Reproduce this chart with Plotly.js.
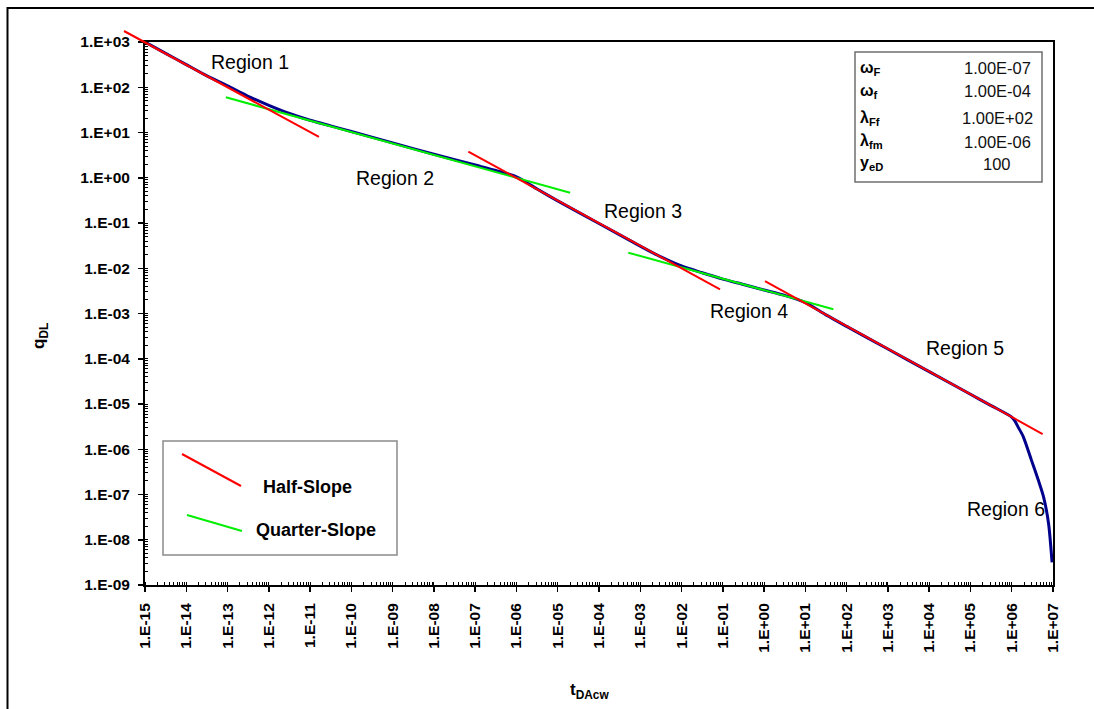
<!DOCTYPE html>
<html>
<head>
<meta charset="utf-8">
<script src="https://cdn.plot.ly/plotly-3.0.1.min.js"></script>
<style>html,body{margin:0;padding:0;background:#fff;}#chart{width:1094px;height:709px;}</style>
</head>
<body>
<div id="chart"></div>
<script>
// ---------- data ----------
const xTickVals = [1e-15,1e-14,1e-13,1e-12,1e-11,1e-10,1e-9,1e-8,1e-7,1e-6,1e-5,1e-4,1e-3,1e-2,1e-1,1e0,1e1,1e2,1e3,1e4,1e5,1e6,1e7];
const xTickText = ['1.E-15','1.E-14','1.E-13','1.E-12','1.E-11','1.E-10','1.E-09','1.E-08','1.E-07','1.E-06','1.E-05','1.E-04','1.E-03','1.E-02','1.E-01','1.E+00','1.E+01','1.E+02','1.E+03','1.E+04','1.E+05','1.E+06','1.E+07'];
const yTickVals = [1e-9,1e-8,1e-7,1e-6,1e-5,1e-4,1e-3,1e-2,1e-1,1e0,1e1,1e2,1e3];
const yTickText = ['1.E-09','1.E-08','1.E-07','1.E-06','1.E-05','1.E-04','1.E-03','1.E-02','1.E-01','1.E+00','1.E+01','1.E+02','1.E+03'];

// solution curve (tDAcw, qDL)
const tDA = [1e-15,3.16e-15,1e-14,3.16e-14,1e-13,3.16e-13,1e-12,3.16e-12,1e-11,3.16e-11,1e-10,1e-9,1e-8,1e-7,3.16e-7,1e-6,3.16e-6,1e-5,1e-4,1e-3,3.16e-3,1e-2,3.16e-2,0.1,0.316,1,3.16,10,31.6,100,1e3,1e4,1e5,3.16e5,1e6,1.2e6,1.41e6,1.9e6,3.0e6,4.4e6,5.9e6,7.8e6,9.5e6];
const qDL = [1000,562,316,178,107,63.1,39.8,26.3,18.6,14.0,10.5,5.89,3.31,1.91,1.45,1.05,0.562,0.309,0.0977,0.0309,0.0178,0.0112,0.00794,0.00575,0.00437,0.00331,0.00251,0.00174,0.000933,0.000519,0.000164,5.19e-5,1.64e-5,9.23e-6,5.13e-6,4.17e-6,3.16e-6,1.91e-6,5.75e-7,2.09e-7,8.91e-8,2.29e-8,3.16e-9];

// half-slope guide lines
const half1T = [3.1e-16, 1.64e-11], half1Q = [1750, 7.96];
const half2T = [6.82e-8, 0.0857],   half2Q = [3.77, 0.00342];
const half3T = [1.05, 5.62e6],      half3Q = [0.00522, 2.17e-6];
// quarter-slope guide lines
const quarter1T = [9.1e-14, 2.0e-5], quarter1Q = [60.0, 0.468];
const quarter2T = [5.14e-4, 47.6],   quarter2Q = [0.0221, 0.00124];

const paramLabels = ['ω<sub>F</sub>','ω<sub>f</sub>','λ<sub>Ff</sub>','λ<sub>fm</sub>','y<sub>eD</sub>'];
const paramValues = ['1.00E-07','1.00E-04','1.00E+02','1.00E-06','100'];
const regionLabels = ['Region 1','Region 2','Region 3','Region 4','Region 5','Region 6'];
const legendLabels = ['Half-Slope','Quarter-Slope'];

// ---------- layout geometry (pixels) ----------
const W = 1094, H = 709, L = 115, R = 41, T = 25, B = 124;
const gw = W - L - R, gh = H - T - B;
const fx0 = 145, fx1 = 1053, fy0 = 42, fy1 = 585;
const px = x => (x - L) / gw;
const py = y => (H - B - y) / gh;
const xRange = [-15, 7], yRange = [-9, 3];
const ppdX = (fx1 - fx0) / (xRange[1] - xRange[0]);
const ppdY = (fy1 - fy0) / (yRange[1] - yRange[0]);
const x2Range = [xRange[0] - (fx0 - L) / ppdX, xRange[1] + (W - R - fx1) / ppdX];
const y2Range = [yRange[0] - (H - B - fy1) / ppdY, yRange[1] + (fy0 - T) / ppdY];

const FONT = 'Liberation Sans, Arial, Helvetica, sans-serif';
const RED = '#ff0000', GREEN = '#00ee00', BLUE = '#00008c';

const traces = [
  {x: tDA, y: qDL, mode: 'lines', line: {color: BLUE, width: 3, shape: 'spline', smoothing: 0.7}, xaxis: 'x', yaxis: 'y'},
  {x: quarter1T, y: quarter1Q, mode: 'lines', line: {color: GREEN, width: 2}, xaxis: 'x', yaxis: 'y'},
  {x: quarter2T, y: quarter2Q, mode: 'lines', line: {color: GREEN, width: 2}, xaxis: 'x', yaxis: 'y'},
  {x: half2T, y: half2Q, mode: 'lines', line: {color: RED, width: 2}, xaxis: 'x', yaxis: 'y'},
  {x: half3T, y: half3Q, mode: 'lines', line: {color: RED, width: 2}, xaxis: 'x', yaxis: 'y'},
  {x: half1T, y: half1Q, mode: 'lines', line: {color: RED, width: 2}, xaxis: 'x2', yaxis: 'y2'}
];

const tickFont = {family: FONT, size: 15.5, color: '#000', weight: 'bold'};
const minor = {ticks: 'inside', ticklen: 3, tickwidth: 1, tickcolor: '#000', dtick: 'D1', showgrid: false};

const annotations = [];
function ann(text, x, y, font, opts) {
  annotations.push(Object.assign({text: text, x: px(x), y: py(y), xref: 'paper', yref: 'paper',
    showarrow: false, xanchor: 'center', yanchor: 'middle', font: font}, opts || {}));
}
const regionFont = {family: FONT, size: 19.5, color: '#000'};
const regionPos = [[250,62],[395,178],[643,211],[749,311],[965,348],[1006,509]];
regionLabels.forEach((t, i) => ann(t, regionPos[i][0], regionPos[i][1], regionFont));
const rowY = [68.5, 91, 118.5, 141.5, 163.5];
paramLabels.forEach((t, i) => ann(t, 858, rowY[i], {family: FONT, size: 16, color: '#000', weight: 'bold'}, {xanchor: 'left'}));
paramValues.forEach((t, i) => ann(t, 997, rowY[i], {family: FONT, size: 16.5, color: '#111'}));
const legFont = {family: FONT, size: 18, color: '#000', weight: 'bold'};
ann(legendLabels[0], 307.5, 487, legFont);
ann(legendLabels[1], 315.5, 530, legFont);
const titleFont = {family: FONT, size: 17, color: '#000', weight: 'bold'};
ann('t<sub>DAcw</sub>', 589, 691, titleFont);
ann('q<sub>DL</sub>', 40, 336, titleFont, {textangle: -90});

const shapes = [
  {type: 'rect', xref: 'paper', yref: 'paper', x0: px(7.5), x1: px(1110), y0: py(8), y1: py(730), line: {color: '#000', width: 2}},
  {type: 'rect', xref: 'paper', yref: 'paper', x0: px(855), x1: px(1042), y0: py(52), y1: py(182), line: {color: '#6f6f6f', width: 1.5}},
  {type: 'rect', xref: 'paper', yref: 'paper', x0: px(163), x1: px(397), y0: py(441), y1: py(555), line: {color: '#8a8a8a', width: 1.5}},
  {type: 'line', xref: 'paper', yref: 'paper', x0: px(182), x1: px(241), y0: py(454), y1: py(486), line: {color: RED, width: 2}},
  {type: 'line', xref: 'paper', yref: 'paper', x0: px(187), x1: px(242), y0: py(515), y1: py(531), line: {color: GREEN, width: 2}}
];

const layout = {
  width: W, height: H,
  margin: {l: L, r: R, t: T, b: B, pad: 0},
  paper_bgcolor: '#fff', plot_bgcolor: 'rgba(0,0,0,0)',
  showlegend: false,
  xaxis: {type: 'log', range: xRange, domain: [px(fx0), px(fx1)], anchor: 'y',
    tickmode: 'array', tickvals: xTickVals, ticktext: xTickText, tickangle: -90,
    ticks: 'outside', ticklen: 5, tickwidth: 1.5, tickcolor: '#000', ticklabelstandoff: 5,
    showline: true, linecolor: '#000', linewidth: 2, mirror: true,
    showgrid: false, zeroline: false, tickfont: tickFont, minor: minor},
  yaxis: {type: 'log', range: yRange, domain: [py(fy1), py(fy0)], anchor: 'x',
    tickmode: 'array', tickvals: yTickVals, ticktext: yTickText,
    ticks: 'outside', ticklen: 5, tickwidth: 1.5, tickcolor: '#000', ticklabelstandoff: 5,
    showline: true, linecolor: '#000', linewidth: 2, mirror: true,
    showgrid: false, zeroline: false, tickfont: tickFont, minor: minor},
  xaxis2: {type: 'log', range: x2Range, domain: [0, 1], anchor: 'y2', visible: false},
  yaxis2: {type: 'log', range: y2Range, domain: [0, 1], anchor: 'x2', visible: false},
  annotations: annotations,
  shapes: shapes
};

Plotly.newPlot('chart', traces, layout, {staticPlot: true, displayModeBar: false});
</script>
</body>
</html>
